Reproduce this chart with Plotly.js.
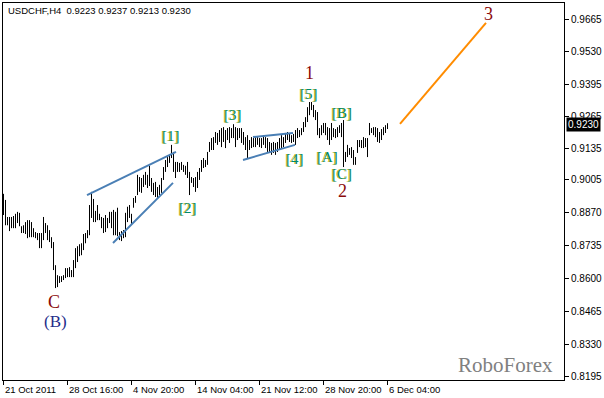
<!DOCTYPE html>
<html><head><meta charset="utf-8">
<script src="https://cdn.plot.ly/plotly-3.0.1.min.js"></script>
<style>html,body{margin:0;padding:0;background:#fff}#chart{width:604px;height:398px}</style>
</head><body><div id="chart"></div>
<script>
// H4 bars, 21 Oct 2011 .. 6 Dec 2011 04:00 (bar index 0..192)
const highs = [
0.8947,0.8922,0.8852,0.8852,0.8852,0.8856,0.8865,0.8873,0.8869,0.8814,
0.8818,0.8831,0.8839,0.8839,0.8831,0.8806,0.8790,0.8786,0.8786,0.8786,
0.8852,0.8827,0.8818,0.8798,0.8769,0.8749,0.8654,0.8613,0.8609,0.8609,
0.8613,0.8642,0.8642,0.8646,0.8634,0.8675,0.8724,0.8732,0.8740,0.8744,
0.8782,0.8786,0.8798,0.8901,0.8955,0.8926,0.8877,0.8901,0.8865,0.8852,
0.8848,0.8860,0.8848,0.8873,0.8873,0.8881,0.8873,0.8890,0.8790,0.8794,
0.8798,0.8869,0.8894,0.8901,0.8865,0.8930,0.8938,0.9025,0.9016,0.9012,
0.9025,0.9037,0.9025,0.9062,0.9012,0.8992,0.8996,0.8975,0.8984,0.9012,
0.9057,0.9086,0.9098,0.9107,0.9148,0.9119,0.9078,0.9078,0.9074,0.9078,
0.9066,0.9062,0.9078,0.9037,0.9016,0.9012,0.9016,0.9037,0.9053,0.9086,
0.9094,0.9086,0.9119,0.9160,0.9176,0.9180,0.9201,0.9197,0.9209,0.9217,
0.9221,0.9209,0.9217,0.9221,0.9217,0.9233,0.9221,0.9217,0.9217,0.9217,
0.9201,0.9180,0.9188,0.9168,0.9180,0.9176,0.9180,0.9180,0.9176,0.9176,
0.9188,0.9180,0.9176,0.9160,0.9156,0.9160,0.9156,0.9160,0.9176,0.9188,
0.9180,0.9197,0.9201,0.9193,0.9188,0.9193,0.9209,0.9217,0.9209,0.9217,
0.9242,0.9262,0.9303,0.9324,0.9324,0.9312,0.9291,0.9283,0.9217,0.9229,
0.9238,0.9238,0.9221,0.9217,0.9238,0.9217,0.9213,0.9221,0.9229,0.9238,
0.9250,0.9119,0.9148,0.9135,0.9139,0.9127,0.9098,0.9168,0.9168,0.9168,
0.9180,0.9176,0.9176,0.9238,0.9217,0.9221,0.9221,0.9217,0.9201,0.9213,
0.9221,0.9229,0.9237];
const lows = [
0.8860,0.8818,0.8818,0.8794,0.8806,0.8806,0.8806,0.8827,0.8814,0.8786,
0.8786,0.8782,0.8765,0.8769,0.8769,0.8769,0.8765,0.8757,0.8724,0.8724,
0.8757,0.8786,0.8757,0.8749,0.8724,0.8634,0.8560,0.8564,0.8581,0.8585,
0.8593,0.8601,0.8605,0.8605,0.8605,0.8605,0.8642,0.8667,0.8691,0.8695,
0.8716,0.8744,0.8765,0.8777,0.8848,0.8831,0.8831,0.8839,0.8839,0.8806,
0.8786,0.8790,0.8806,0.8827,0.8806,0.8777,0.8777,0.8773,0.8757,0.8753,
0.8765,0.8769,0.8831,0.8848,0.8823,0.8890,0.8910,0.8942,0.8955,0.8951,
0.8975,0.8984,0.8971,0.8979,0.8955,0.8942,0.8934,0.8930,0.8942,0.8951,
0.9004,0.9037,0.9057,0.9074,0.9094,0.9037,0.9012,0.9037,0.9037,0.9045,
0.9037,0.9025,0.9012,0.8942,0.8992,0.8975,0.8955,0.8971,0.9004,0.9037,
0.9053,0.9057,0.9066,0.9119,0.9127,0.9127,0.9156,0.9148,0.9160,0.9139,
0.9160,0.9135,0.9168,0.9156,0.9176,0.9176,0.9139,0.9168,0.9176,0.9156,
0.9148,0.9127,0.9094,0.9127,0.9135,0.9139,0.9139,0.9148,0.9139,0.9135,
0.9148,0.9135,0.9119,0.9115,0.9107,0.9115,0.9107,0.9119,0.9127,0.9135,
0.9139,0.9156,0.9168,0.9160,0.9156,0.9160,0.9148,0.9176,0.9180,0.9188,
0.9201,0.9221,0.9242,0.9270,0.9291,0.9262,0.9250,0.9188,0.9176,0.9188,
0.9197,0.9188,0.9168,0.9148,0.9168,0.9180,0.9176,0.9180,0.9197,0.9180,
0.9057,0.9078,0.9098,0.9107,0.9094,0.9066,0.9066,0.9115,0.9139,0.9135,
0.9135,0.9139,0.9098,0.9188,0.9197,0.9188,0.9180,0.9160,0.9156,0.9168,
0.9188,0.9197,0.9213];

const timeTickIdx = [0,32,64,96,128,160,192];
const timeTickLabels = ['21 Oct 2011','28 Oct 16:00','4 Nov 20:00','14 Nov 04:00','21 Nov 12:00','28 Nov 20:00','6 Dec 04:00'];
const priceTicks = [0.9665,0.9530,0.9395,0.9265,0.9135,0.9005,0.8870,0.8735,0.8600,0.8465,0.8330,0.8195];
const symbol = 'USDCHF,H4';
const lastOHLC = [0.9223,0.9237,0.9213,0.9230];

// drawn lines (bar index, price)
const wedgeUpperX = [41.75,86.25], wedgeUpperY = [0.8942,0.9119];
const wedgeLowerX = [54.75,84.75], wedgeLowerY = [0.8745,0.8992];
const triUpperX = [124.75,144.75], triUpperY = [0.9180,0.9197];
const triLowerX = [119.75,145.75], triLowerY = [0.9086,0.9148];
const targetX = [198.25,241.25], targetY = [0.9234,0.9649];

// wave labels
const greenLabels = [
  {t:'[1]', x:83.75, y:0.9184},
  {t:'[2]', x:92.25, y:0.8889},
  {t:'[3]', x:114.75, y:0.9271},
  {t:'[4]', x:145.75, y:0.9090},
  {t:'[5]', x:152.75, y:0.9357},
  {t:'[A]', x:161.75, y:0.9098},
  {t:'[B]', x:169.25, y:0.9279},
  {t:'[C]', x:169.25, y:0.9028}
];
const redLabels = [
  {t:'1', x:152.75, y:0.9443},
  {t:'2', x:169.25, y:0.8959},
  {t:'3', x:242.25, y:0.9686},
  {t:'C', x:25.25, y:0.8503}
];
const blueLabels = [{t:'(B)', x:25.75, y:0.8421}];

const bx = [], by = [];
for (let i = 0; i < highs.length; i++) { bx.push(i, i, null); by.push(lows[i], highs[i], null); }

const blue = '#4a7fb5';
const traces = [
  {type:'scatter', mode:'lines', x:bx, y:by, line:{color:'#000', width:1}, hoverinfo:'skip'},
  {type:'scatter', mode:'lines', x:wedgeUpperX, y:wedgeUpperY, line:{color:blue, width:2}},
  {type:'scatter', mode:'lines', x:wedgeLowerX, y:wedgeLowerY, line:{color:blue, width:2}},
  {type:'scatter', mode:'lines', x:triUpperX, y:triUpperY, line:{color:blue, width:2}},
  {type:'scatter', mode:'lines', x:triLowerX, y:triLowerY, line:{color:blue, width:2}},
  {type:'scatter', mode:'lines', x:targetX, y:targetY, line:{color:'#ff8c00', width:2}}
];

const serif = 'Liberation Serif, Times New Roman, serif';
const sans = 'Liberation Sans, Arial, sans-serif';
const ann = [];
greenLabels.forEach(l => ann.push({x:l.x, y:l.y, xref:'x', yref:'y', text:l.t, showarrow:false,
  xanchor:'center', yanchor:'middle', font:{family:serif, size:15, color:'#008a6a', shadow:'-1px 0px 0px #c8b400'}}));
redLabels.forEach(l => ann.push({x:l.x, y:l.y, xref:'x', yref:'y', text:l.t, showarrow:false,
  xanchor:'center', yanchor:'middle', font:{family:serif, size:18, color:'#8b0a0a'}}));
blueLabels.forEach(l => ann.push({x:l.x, y:l.y, xref:'x', yref:'y', text:l.t, showarrow:false,
  xanchor:'center', yanchor:'middle', font:{family:serif, size:17, color:'#1f2d8a'}}));
timeTickIdx.forEach((v, k) => ann.push({x:v, y:-0.024, xref:'x', yref:'paper', xanchor:'left', yanchor:'middle',
  xshift:-1, showarrow:false, text:timeTickLabels[k], font:{family:sans, size:9.5, color:'#000'}}));
ann.push({x:0.0054, y:0.979, xref:'paper', yref:'paper', xanchor:'left', yanchor:'middle', showarrow:false,
  text: symbol + '  ' + lastOHLC.map(v => v.toFixed(4)).join(' '), font:{family:sans, size:9.5, color:'#000'}});
ann.push({x:0.8966, y:0.040, xref:'paper', yref:'paper', xanchor:'center', yanchor:'middle', showarrow:false,
  text:'RoboForex', font:{family:serif, size:21, color:'#808080'}});
ann.push({x:1, xshift:2, y:lastOHLC[3], xref:'paper', yref:'y', xanchor:'left', yanchor:'middle', showarrow:false,
  text:lastOHLC[3].toFixed(4), bgcolor:'#000', borderpad:1, font:{family:sans, size:10, color:'#fff'}});

const layout = {
  width:604, height:398, margin:{l:3, r:40, t:3, b:18},
  paper_bgcolor:'#fff', plot_bgcolor:'#fff', showlegend:false,
  xaxis:{range:[-0.25,280.25], tickvals:timeTickIdx, ticktext:timeTickIdx.map(() => ''), ticks:'outside', ticklen:4,
    tickcolor:'#000', showgrid:false, zeroline:false, showline:true, linecolor:'#000', linewidth:1, mirror:true,
    fixedrange:true},
  yaxis:{side:'right', range:[0.81825,0.97307], tickvals:priceTicks, ticktext:priceTicks.map(v => v.toFixed(4)),
    ticks:'outside', ticklen:4, tickcolor:'#000', showgrid:false, zeroline:false, showline:true, linecolor:'#000',
    linewidth:1, mirror:true, tickfont:{family:sans, size:10, color:'#000'}, fixedrange:true},
  annotations: ann
};
Plotly.newPlot('chart', traces, layout, {displayModeBar:false, staticPlot:true});
</script></body></html>
